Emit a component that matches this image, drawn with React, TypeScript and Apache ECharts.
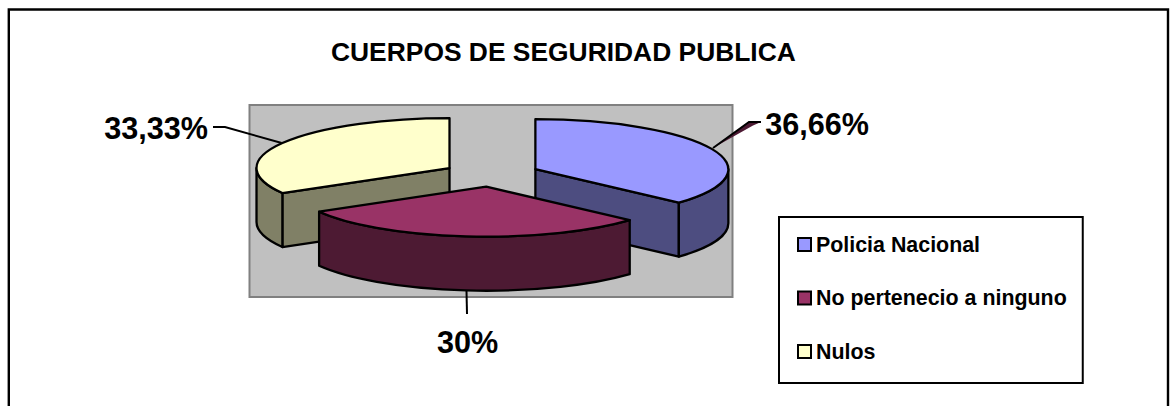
import React, { useEffect, useRef } from "react";
import * as echarts from "echarts";

const categories = ["Policia Nacional", "No pertenecio a ninguno", "Nulos"];
const shares = [36.66, 30, 33.33];
const shareLabels = ["36,66%", "30%", "33,33%"];
const chartTitle = "CUERPOS DE SEGURIDAD PUBLICA";

const topColors = ["#9999FF", "#993366", "#FFFFCC"];
const sideColors = ["#4D4D80", "#4D1A33", "#808066"];

const FONT = '"Liberation Sans", Arial, sans-serif';
const CX = 491.3, CY = 174.3, RX = 193, RY = 50, DEPTH = 54, EXPLODE = 0.25;
const total = shares.reduce((a, b) => a + b, 0);
const seriesZ = [3, 4, 2];

const leaderPaths = [
  { wedge: "M713 148 L749 121.5 L761 122 L753 125.5 Z", d: "M713 148 L749 122 L761 122" },
  { wedge: "", d: "M466.5 291 L467 314" },
  { wedge: "", d: "M213 127 L225 127 L281.7 143" },
];
const labelSpots = [
  [817, 123.5],
  [467.5, 342],
  [156, 127.5],
];

function renderSlice(index: number) {
  return (_params: any, api: any) => {
    const before = shares.slice(0, index).reduce((a, b) => a + b, 0);
    const a0 = (before / total) * 360;
    const a1 = ((before + (api.value(0) as number)) / total) * 360;
    const mid = ((a0 + a1) / 2) * (Math.PI / 180);
    const ox = CX + Math.sin(mid) * RX * EXPLODE;
    const oy = CY - Math.cos(mid) * RY * EXPLODE;
    const pt = (deg: number, dz = 0) => {
      const r = (deg * Math.PI) / 180;
      return [ox + Math.sin(r) * RX, oy - Math.cos(r) * RY + dz];
    };
    const line = { stroke: "#000", lineWidth: 2.3, lineJoin: "round" };
    const face = (d: string, fill: string) => ({
      type: "path",
      shape: { pathData: d, layout: "none" },
      style: { fill, ...line },
    });
    const children: any[] = [];
    const radial = (deg: number) => {
      const p = pt(deg);
      children.push(
        face(
          `M${ox} ${oy} L${p[0]} ${p[1]} L${p[0]} ${p[1] + DEPTH} L${ox} ${oy + DEPTH} Z`,
          sideColors[index]
        )
      );
    };
    if (Math.sin((a1 * Math.PI) / 180) > 0.001) radial(a1);
    if (Math.sin((a0 * Math.PI) / 180) < -0.001) radial(a0);
    const s0 = Math.max(a0, 90);
    const s1 = Math.min(a1, 270);
    if (s1 > s0) {
      const p = pt(s0), q = pt(s1);
      const large = s1 - s0 > 180 ? 1 : 0;
      children.push(
        face(
          `M${p[0]} ${p[1]} A${RX} ${RY} 0 ${large} 1 ${q[0]} ${q[1]} L${q[0]} ${q[1] + DEPTH} A${RX} ${RY} 0 ${large} 0 ${p[0]} ${p[1] + DEPTH} Z`,
          sideColors[index]
        )
      );
    }
    const s = pt(a0), e = pt(a1);
    children.push(
      face(
        `M${ox} ${oy} L${s[0]} ${s[1]} A${RX} ${RY} 0 ${a1 - a0 > 180 ? 1 : 0} 1 ${e[0]} ${e[1]} Z`,
        topColors[index]
      )
    );
    if (leaderPaths[index].wedge) {
      children.push({
        type: "path",
        shape: { pathData: leaderPaths[index].wedge, layout: "none" },
        style: { fill: sideColors[1], stroke: "none" },
      });
    }
    children.push({
      type: "path",
      shape: { pathData: leaderPaths[index].d, layout: "none" },
      style: { fill: "none", stroke: "#000", lineWidth: 2 },
    });
    children.push({
      type: "text",
      x: labelSpots[index][0],
      y: labelSpots[index][1],
      style: {
        text: shareLabels[index],
        fill: "#000",
        font: `bold 30.6px ${FONT}`,
        textAlign: "center",
        textVerticalAlign: "middle",
      },
    });
    return { type: "group", children };
  };
}

export default function App() {
  const ref = useRef<HTMLDivElement>(null);
  useEffect(() => {
    const chart = echarts.init(ref.current!, undefined, { renderer: "svg" });
    chart.setOption({
      animation: false,
      backgroundColor: "#FFFFFF",
      title: {
        text: chartTitle,
        left: 331,
        top: 39,
        padding: 0,
        textStyle: { fontFamily: FONT, fontWeight: "bold", fontSize: 26.4, color: "#000" },
      },
      legend: {
        orient: "vertical",
        left: 779,
        top: 217,
        padding: [17, 16, 21, 18],
        itemGap: 32.5,
        itemWidth: 13,
        itemHeight: 13,
        selectedMode: false,
        backgroundColor: "#FFFFFF",
        borderColor: "#000",
        borderWidth: 2,
        borderRadius: 0,
        textStyle: { fontFamily: FONT, fontWeight: "bold", fontSize: 21.4, color: "#000" },
        data: categories.map((name, i) => ({
          name,
          icon: "rect",
          itemStyle: { color: topColors[i], borderColor: "#000", borderWidth: 2 },
        })),
      },
      graphic: [
        {
          type: "polyline",
          z: 0,
          shape: { points: [[8.8, 412], [8.8, 9.5], [1168, 9.5], [1168, 412]] },
          style: { fill: "none", stroke: "#000", lineWidth: 2.4 },
        },
        {
          type: "rect",
          z: 0,
          shape: { x: 249.5, y: 105, width: 483, height: 192 },
          style: { fill: "#C0C0C0", stroke: "#808080", lineWidth: 2 },
        },
      ],
      series: categories.map((name, i) => ({
        type: "custom",
        name,
        coordinateSystem: "none",
        z: seriesZ[i],
        silent: true,
        clip: false,
        itemStyle: { color: topColors[i] },
        data: [shares[i]],
        renderItem: renderSlice(i),
      })),
    });
    return () => chart.dispose();
  }, []);
  return (
    <div
      ref={ref}
      style={{ position: "absolute", left: 0, top: 0, width: 1170, height: 406 }}
    />
  );
}
